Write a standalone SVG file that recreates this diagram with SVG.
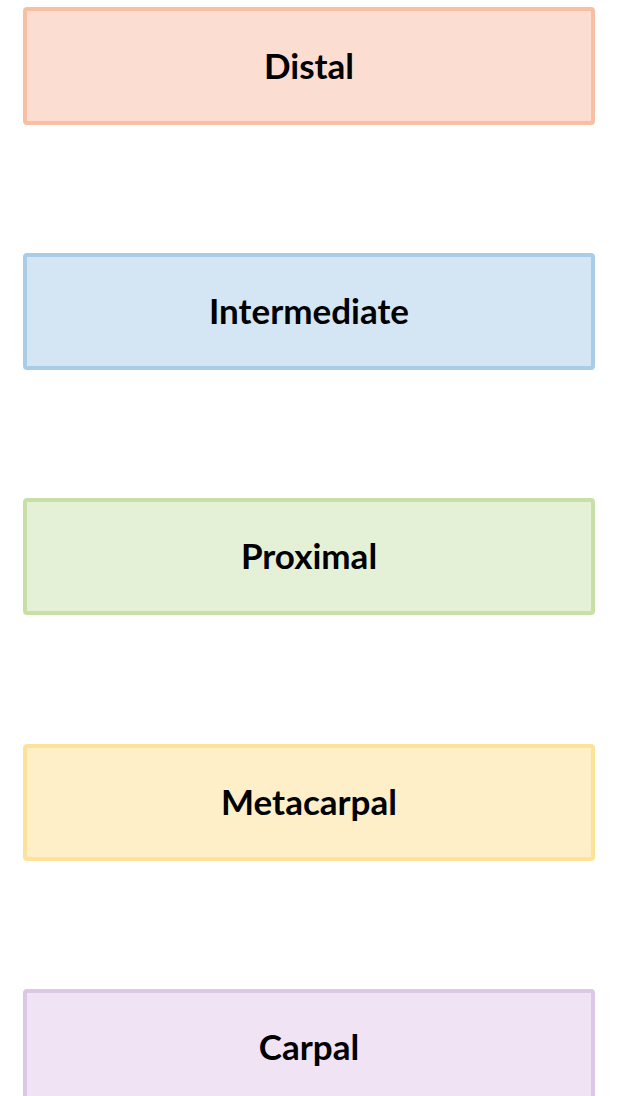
<svg xmlns="http://www.w3.org/2000/svg" width="617" height="1096" viewBox="0 0 617 1096">
<style>
.box{stroke-width:4}
.lbl{font-family:Lato,"Open Sans","Liberation Sans",sans-serif;font-weight:bold;font-size:35px;fill:#000;text-anchor:middle}
</style>
<rect width="617" height="1096" fill="#fff"/>
<g id="distal"><rect class="box" x="25" y="9" width="568" height="114" rx="2" fill="#FBDDD1" stroke="#F8BFA4"/><text class="lbl" x="309" y="79">Distal</text></g>
<g id="intermediate"><rect class="box" x="25" y="255" width="568" height="113" rx="2" fill="#D4E6F4" stroke="#A9CDE8"/><text class="lbl" x="309" y="324">Intermediate</text></g>
<g id="proximal"><rect class="box" x="25" y="500" width="568" height="113" rx="2" fill="#E4F1D6" stroke="#C6E0A6"/><text class="lbl" x="309" y="569">Proximal</text></g>
<g id="metacarpal"><rect class="box" x="25" y="746" width="568" height="113" rx="2" fill="#FEEFC9" stroke="#FDE39A"/><text class="lbl" x="309" y="815">Metacarpal</text></g>
<g id="carpal"><rect class="box" x="25" y="991" width="568" height="113" rx="2" fill="#F0E3F4" stroke="#DCC8E6"/><text class="lbl" x="309" y="1060">Carpal</text></g>
<g id="connectors"></g>
</svg>
